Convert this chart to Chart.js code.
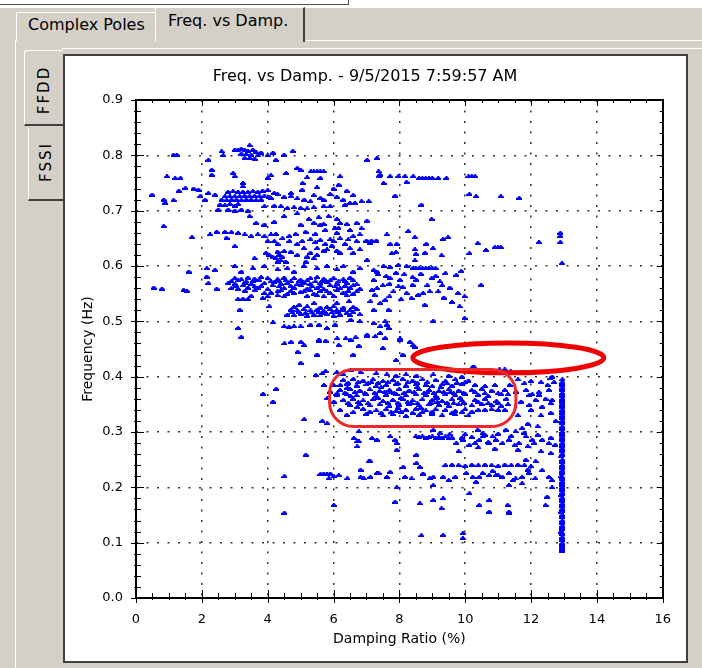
<!DOCTYPE html>
<html><head><meta charset="utf-8">
<script src="https://cdn.jsdelivr.net/npm/chart.js@4.4.1/dist/chart.umd.min.js"></script>
<style>
html,body{margin:0;padding:0;}
body{width:702px;height:668px;overflow:hidden;background:#d4d0c8;position:relative;font-family:"DejaVu Sans",sans-serif;color:#000;}
.abs{position:absolute;box-sizing:border-box;}
.tabtxt{position:absolute;font-size:16px;line-height:16px;white-space:nowrap;}
.vtxt{position:absolute;font-size:15px;letter-spacing:2px;white-space:nowrap;transform:translate(-50%,-50%) rotate(-90deg);}
</style></head>
<body>
<div class="abs" style="left:0;top:0;width:702px;height:8px;background:#fff;"></div>
<div class="abs" style="left:0;top:4px;width:349px;height:1px;background:#555;"></div>
<div class="abs" style="left:348px;top:0;width:1px;height:5px;background:#555;"></div>

<div class="abs" style="left:15px;top:40px;width:687px;height:1px;background:#fff;"></div>
<div class="abs" style="left:15px;top:40px;width:1px;height:628px;background:#fff;"></div>

<div class="abs" style="left:16px;top:12px;width:140px;height:29px;border-top:1px solid #fff;border-left:1px solid #fff;border-right:1px solid #808080;background:#d4d0c8;"></div>
<div class="tabtxt" style="left:28px;top:17px;">Complex Poles</div>
<div class="abs" style="left:155px;top:7px;width:150px;height:35px;border-top:1px solid #fff;border-left:1px solid #fff;border-right:2px solid #404040;background:#d4d0c8;"></div>
<div class="tabtxt" style="left:168px;top:13px;">Freq. vs Damp.</div>

<div class="abs" style="left:62px;top:48px;width:640px;height:1px;background:#fff;"></div>
<div class="abs" style="left:24px;top:50px;width:39px;height:76px;border-top:1px solid #fff;border-left:1px solid #fff;border-bottom:2px solid #404040;border-radius:3px 0 0 0;background:#d4d0c8;"></div>
<div class="vtxt" style="left:44px;top:90px;">FFDD</div>
<div class="abs" style="left:28px;top:128px;width:35px;height:73px;border-left:1px solid #fff;border-bottom:2px solid #404040;background:#d4d0c8;"></div>
<div class="vtxt" style="left:46px;top:162px;">FSSI</div>

<div class="abs" style="left:63px;top:54px;width:625px;height:609px;border:2px solid #404040;background:#fff;"></div>
<canvas id="c" width="620" height="604" style="position:absolute;left:65px;top:56px;"></canvas>

<script>
// ---------- chart text ----------
const chartTitle = 'Freq. vs Damp. - 9/5/2015 7:59:57 AM';
const xAxisTitle = 'Damping Ratio (%)';
const yAxisTitle = 'Frequency (Hz)';
const xTickLabels = ['0','2','4','6','8','10','12','14','16'];
const yTickLabels = ['0.0','0.1','0.2','0.3','0.4','0.5','0.6','0.7','0.8','0.9'];

// ---------- poles: [damping ratio %, frequency Hz] ----------
const topPoles = [
[3.45,0.818],[3.0,0.81],[3.1,0.81],[3.2,0.812],[3.3,0.81],[3.4,0.808],[3.55,0.81],[3.65,0.806],[3.2,0.803],[3.35,0.802],[3.5,0.801],[3.7,0.8],[3.3,0.795],[3.45,0.795],[3.6,0.794],[2.6,0.807],[2.65,0.8],[2.2,0.792],[1.14,0.801],[1.24,0.801],[3.8,0.805],[4.16,0.805],[4.25,0.792],[4.5,0.801],[4.76,0.808],[4.0,0.8],
[0.94,0.762],[1.19,0.759],[1.35,0.759],[2.3,0.774],[2.3,0.765],[2.95,0.768],[3.0,0.762],[3.25,0.75],[3.25,0.744],[4.0,0.759],[4.1,0.764],[4.9,0.777],[5.0,0.774],[5.31,0.771],[5.4,0.771],[5.5,0.771],[5.6,0.771],[5.7,0.771],[5.2,0.76],[5.6,0.759],[5.06,0.75],[6.2,0.762],[6.16,0.747],[4.56,0.768],
[7.32,0.795],[7.02,0.792],[7.37,0.771],[7.37,0.762],[7.42,0.765],[7.72,0.762],[7.97,0.762],[8.17,0.762],[8.42,0.762],[8.6,0.759],[8.7,0.759],[8.8,0.759],[8.9,0.759],[9.0,0.759],[9.18,0.759],[9.43,0.759],[7.52,0.75],[8.22,0.752],[10.1,0.762],[10.2,0.762],[10.3,0.762]
];
const upperPoles = [
[0.49,0.729],[1.3,0.736],[1.5,0.741],[1.75,0.74],[1.9,0.738],
[2.8,0.734],[2.95,0.735],[3.1,0.734],[3.25,0.734],[3.4,0.734],[3.55,0.735],[3.7,0.734],[3.85,0.736],[4.0,0.737],
[2.7,0.726],[2.85,0.726],[3.0,0.726],[3.15,0.726],[3.3,0.727],[3.45,0.726],[3.6,0.727],[3.75,0.726],[3.9,0.727],[4.05,0.725],
[2.6,0.72],[2.75,0.719],[2.9,0.72],[3.05,0.72],[3.2,0.719],[3.35,0.72],[3.5,0.72],[3.65,0.719],[3.8,0.72],
[1.95,0.726],[2.2,0.732],[2.4,0.729],[2.1,0.72],[0.84,0.72],[0.89,0.714],[1.14,0.719],
[2.55,0.711],[2.7,0.71],[2.85,0.712],[3.0,0.709],[3.1,0.712],
[4.2,0.732],[4.1,0.723],[4.71,0.732],[4.71,0.726],[5.11,0.72],[5.3,0.717],[5.6,0.723],[5.7,0.72],
[6.3,0.72],[6.5,0.714],[6.35,0.711],[6.65,0.714],[6.85,0.717],
[3.9,0.708],[4.2,0.709],[4.4,0.708],[4.6,0.705],[4.8,0.706],[5.0,0.705],[5.2,0.704],[5.4,0.706],[5.7,0.708],[5.9,0.708],
[2.5,0.702],[2.8,0.702],[3.0,0.7],[3.2,0.702],[3.4,0.7],[3.45,0.69],[3.65,0.678],
[7.87,0.727],[7.07,0.717],[10.13,0.73],[10.33,0.726],[11.08,0.726],[11.64,0.723],[8.67,0.711],[8.98,0.685],[7.02,0.682],
[4.3,0.73],[4.5,0.725],[4.9,0.722],[5.4,0.728],[5.9,0.73],[6.1,0.725],[6.6,0.728],[5.05,0.738],[5.5,0.742],[6.0,0.74],[6.4,0.736]
];
const middlePoles = [
[0.84,0.672],[5.0,0.675],[5.4,0.678],[5.6,0.675],[5.7,0.676],[6.2,0.678],[6.15,0.669],[6.4,0.676],[6.7,0.678],
[2.25,0.657],[2.45,0.662],[2.7,0.662],[2.9,0.661],[3.1,0.66],[3.3,0.657],[3.5,0.654],[3.7,0.657],[3.9,0.654],[4.1,0.657],[4.25,0.658],
[1.7,0.652],[2.75,0.651],[3.0,0.636],[4.0,0.645],[4.2,0.645],[4.3,0.64],
[4.66,0.654],[4.66,0.645],[5.3,0.648],[5.6,0.647],[5.9,0.648],[6.2,0.65],[6.6,0.654],[6.8,0.657],[6.1,0.66],[6.7,0.645],
[3.95,0.624],[4.3,0.626],[4.5,0.627],[4.7,0.626],[4.25,0.614],[4.4,0.61],[4.3,0.608],[4.55,0.608],
[5.1,0.632],[5.3,0.624],[5.5,0.632],[5.7,0.628],[5.8,0.63],[6.1,0.628],[6.2,0.624],[6.6,0.624],[6.8,0.63],
[5.16,0.608],[3.6,0.614],[5.4,0.614],
[7.0,0.646],[7.15,0.646],[7.3,0.646],[7.1,0.642],[7.62,0.657],[8.27,0.663],[8.47,0.652],[7.72,0.64],[7.92,0.64],[7.77,0.623],[7.9,0.625],[8.47,0.63],[8.5,0.622],[8.82,0.64],[9.02,0.632],[8.78,0.624],[9.33,0.649],[9.48,0.652],[9.28,0.619],[8.47,0.61],[7.02,0.611],
[10.38,0.641],[10.13,0.623],[10.63,0.629],[10.9,0.634],[11.0,0.634],[11.08,0.634],[12.24,0.643],[12.89,0.66],[12.89,0.654],[12.89,0.643],[12.94,0.605],
[7.52,0.6],[7.72,0.598],[7.97,0.602],[8.22,0.6],[8.42,0.597],[8.5,0.596],[8.6,0.596],[8.7,0.596],[8.8,0.596],[8.9,0.596],[9.0,0.596],[9.1,0.596],[7.32,0.59],[7.22,0.593],[9.88,0.591],
[1.6,0.59],[2.15,0.596],[2.4,0.593],[3.0,0.6],[3.2,0.59],[3.55,0.596],[3.9,0.6],[4.3,0.594],[4.6,0.596],[4.8,0.59],[5.1,0.6],[5.5,0.596],[5.8,0.6],[6.1,0.594],[6.3,0.6],[6.6,0.59],[6.8,0.596],
[4.05,0.62],[4.15,0.617],[4.35,0.62],[4.45,0.616],[4.9,0.62],[5.2,0.617],[5.5,0.62],[5.95,0.637],[6.35,0.64],[6.5,0.632],[4.9,0.64],[5.05,0.645],[5.45,0.643],[5.75,0.64],[6.0,0.645],[6.45,0.648],[4.45,0.65],[4.85,0.658],[5.15,0.662],[5.45,0.658],[5.75,0.665],[6.05,0.668],[6.5,0.665],[6.85,0.668],[5.25,0.685],[5.55,0.688],[5.85,0.69],[6.1,0.685],[4.5,0.69],[4.9,0.695],[4.2,0.68],[3.9,0.675]
];
const lowerMiddlePoles = [
[0.54,0.561],[0.79,0.559],[1.45,0.557],[1.55,0.555],[2.15,0.581],[2.2,0.569],[2.45,0.559],
[3.0,0.578],[3.2,0.576],[3.4,0.579],[3.6,0.577],[3.8,0.58],[4.0,0.578],[4.3,0.576],[4.5,0.579],[4.8,0.578],[5.0,0.575],[5.3,0.578],[5.5,0.58],[5.7,0.577],[6.0,0.578],[6.3,0.576],[6.5,0.579],
[2.8,0.569],[3.0,0.568],[3.3,0.57],[3.5,0.568],[3.9,0.569],[4.2,0.571],[4.4,0.568],[4.6,0.569],[4.9,0.567],[5.1,0.57],[5.3,0.568],[5.6,0.569],[5.8,0.571],[6.1,0.568],[6.4,0.569],[6.7,0.567],
[2.9,0.56],[3.1,0.559],[3.4,0.561],[3.7,0.56],[4.0,0.558],[4.5,0.56],[4.8,0.561],[5.2,0.559],[5.5,0.56],[5.7,0.558],[6.2,0.56],[6.5,0.561],[6.8,0.559],
[3.9,0.551],[4.1,0.552],[4.6,0.55],[4.8,0.551],[5.0,0.553],[5.4,0.55],[5.9,0.551],[6.3,0.552],[6.6,0.55],
[3.1,0.54],[3.25,0.541],[3.4,0.54],[3.85,0.542],[4.0,0.545],[4.05,0.527],
[4.96,0.53],[5.41,0.533],[6.1,0.533],[6.47,0.536],
[4.7,0.521],[4.9,0.52],[5.1,0.522],[5.3,0.52],[5.5,0.521],[5.7,0.519],[5.9,0.522],[6.1,0.52],[6.3,0.521],[6.5,0.52],[6.7,0.522],
[4.6,0.512],[4.8,0.511],[5.0,0.513],[5.2,0.51],[5.4,0.512],[5.6,0.511],[5.8,0.513],[6.0,0.51],[6.2,0.512],[6.5,0.511],[6.8,0.513],
[3.15,0.521],[3.1,0.488],[3.2,0.472],[4.16,0.498],[4.5,0.491],[4.65,0.49],[4.8,0.491],[5.0,0.491],[5.3,0.494],[5.56,0.494],[5.8,0.488],[6.05,0.494],[6.52,0.503],[6.8,0.5],
[4.51,0.46],[4.71,0.463],[5.01,0.463],[5.11,0.457],[5.56,0.465],[5.76,0.465],[6.11,0.469],[6.16,0.457],[6.37,0.469],[6.67,0.471],[6.77,0.456],[4.91,0.445],
[7.22,0.575],[7.72,0.578],[8.02,0.575],[8.52,0.575],[8.98,0.578],[9.23,0.572],[9.73,0.584],
[7.17,0.557],[7.32,0.56],[7.82,0.554],[7.97,0.563],[8.22,0.551],[8.37,0.542],[8.57,0.548],[8.72,0.551],[8.92,0.554],[9.18,0.554],[9.53,0.561],[9.78,0.551],[9.98,0.545],[10.48,0.566],
[7.12,0.536],[7.42,0.533],[7.57,0.539],[7.22,0.521],[7.67,0.521],[8.77,0.53],[9.83,0.527],
[7.57,0.5],[7.62,0.494],[7.67,0.488],[7.22,0.497],[7.42,0.491],[7.02,0.476],[9.03,0.501],[9.98,0.506],[8.02,0.469],[8.32,0.463],[8.47,0.454],
[5.56,0.467],[6.52,0.467],[7.02,0.473],[7.27,0.473],[7.42,0.479],[7.57,0.47],[8.02,0.467],[8.42,0.457],
[2.9,0.573],[3.1,0.574],[3.35,0.572],[3.55,0.573],[3.75,0.574],[4.1,0.572],[4.35,0.573],[4.55,0.574],[4.7,0.572],[4.95,0.573],[5.2,0.574],[5.45,0.572],[5.65,0.573],[5.9,0.574],[6.15,0.572],[6.35,0.573],[6.6,0.574],
[3.05,0.564],[3.25,0.565],[3.6,0.563],[3.8,0.564],[4.15,0.565],[4.35,0.563],[4.7,0.564],[5.0,0.565],[5.35,0.563],[5.6,0.564],[5.9,0.565],[6.05,0.563],[6.35,0.564],[6.6,0.565],
[3.3,0.555],[3.6,0.556],[4.3,0.554],[4.4,0.556],[4.7,0.555],[5.1,0.554],[5.3,0.556],[5.6,0.555],[5.8,0.554],[6.1,0.556],[6.45,0.555],[6.7,0.554],
[3.5,0.546],[4.3,0.547],[4.5,0.545],[5.2,0.546],[5.5,0.547],[5.7,0.545],[6.0,0.546],[6.4,0.547],
[4.75,0.516],[4.95,0.517],[5.15,0.515],[5.35,0.516],[5.55,0.517],[5.75,0.515],[5.95,0.516],[6.15,0.517],[6.4,0.515],[6.6,0.516],
[4.8,0.526],[5.2,0.527],[5.6,0.525],[5.8,0.526],[6.0,0.527],[6.3,0.525],[6.6,0.526],
[7.35,0.585],[7.6,0.582],[7.9,0.588],[8.15,0.585],[8.4,0.58],[8.65,0.586],[9.1,0.582],[9.4,0.587],[7.5,0.565],[7.7,0.568],[8.1,0.562],[8.4,0.566],[8.85,0.565],[9.3,0.565],[7.25,0.548],[7.7,0.545],[8.05,0.54],[9.35,0.543],[9.6,0.535],
[5.5,0.44],[6.6,0.44],[7.5,0.452],[8.1,0.44],[5.0,0.425],[7.9,0.43]
];
const clusterPoles = [
[10.28,0.417],[11.04,0.413],[11.38,0.41],[11.2,0.413],[10.23,0.418],[12.64,0.4],[12.59,0.397],
[5.46,0.403],[5.76,0.41],[6.1,0.408],[6.52,0.412],[6.82,0.408],
[3.86,0.369],[4.26,0.378],[4.16,0.355],
[5.66,0.406],[6.3,0.404],[7.3,0.406],[7.62,0.404],[7.9,0.402],[8.2,0.404],[8.52,0.402],[9.03,0.404],[9.5,0.402],[9.9,0.4],
[6.3,0.394],[6.6,0.396],[6.9,0.393],[7.2,0.395],[7.5,0.392],[7.8,0.394],[8.1,0.396],[8.4,0.393],[8.7,0.395],[9.1,0.394],[9.4,0.392],[9.7,0.395],[10.1,0.393],
[6.0,0.385],[6.4,0.387],[6.7,0.384],[7.0,0.386],[7.3,0.383],[7.6,0.385],[7.9,0.387],[8.2,0.384],[8.5,0.386],[8.8,0.385],[9.0,0.383],[9.3,0.386],[9.6,0.384],[9.9,0.387],[10.3,0.385],[10.6,0.383],
[6.2,0.376],[6.5,0.378],[6.8,0.375],[7.1,0.377],[7.4,0.374],[7.7,0.376],[8.0,0.378],[8.3,0.375],[8.6,0.377],[8.9,0.376],[9.2,0.374],[9.5,0.377],[9.8,0.375],[10.2,0.376],[10.5,0.378],[10.8,0.375],[11.2,0.376],
[6.1,0.367],[6.4,0.369],[6.7,0.366],[7.0,0.368],[7.3,0.365],[7.6,0.367],[7.9,0.369],[8.2,0.366],[8.5,0.368],[8.8,0.367],[9.1,0.365],[9.4,0.368],[9.7,0.366],[10.0,0.369],[10.4,0.367],[10.7,0.365],[11.1,0.368],
[6.3,0.358],[6.6,0.36],[6.9,0.357],[7.2,0.359],[7.5,0.356],[7.8,0.358],[8.1,0.36],[8.4,0.357],[8.7,0.359],[9.0,0.358],[9.3,0.356],[9.6,0.359],[9.9,0.357],[10.3,0.358],[10.6,0.36],
[6.5,0.349],[6.8,0.351],[7.1,0.348],[7.4,0.35],[7.7,0.347],[8.0,0.349],[8.3,0.351],[8.6,0.348],[8.9,0.35],[9.2,0.349],[9.5,0.347],[9.8,0.35],[10.2,0.348],[10.5,0.351],[10.8,0.349],[11.1,0.347],[11.3,0.35],
[6.2,0.34],[6.9,0.342],[7.3,0.339],[7.6,0.341],[7.9,0.338],[8.2,0.34],[8.5,0.342],[8.8,0.339],[9.1,0.341],[9.4,0.34],[9.7,0.338],[10.0,0.341],[10.4,0.34],[10.6,0.34],[10.8,0.341],[11.0,0.34],[11.2,0.34],
[6.4,0.331],[7.0,0.333],[7.5,0.33],[7.8,0.332],[8.2,0.329],[8.6,0.331],[9.0,0.333],[9.3,0.33],[9.7,0.332],[10.1,0.33],
[7.15,0.39],[7.45,0.381],[7.75,0.372],[8.05,0.362],[8.35,0.353],[8.65,0.344],[8.25,0.39],[8.55,0.381],[8.85,0.372],[9.15,0.362],[9.45,0.353],[7.35,0.362],[7.65,0.353],[7.95,0.344],[9.25,0.381],[9.55,0.372],[9.85,0.362],
[6.45,0.389],[6.75,0.39],[7.05,0.388],[7.35,0.389],[7.65,0.39],[7.95,0.388],[8.55,0.389],[8.85,0.39],[9.45,0.388],[9.75,0.389],[10.0,0.39],
[6.35,0.371],[6.65,0.372],[6.95,0.37],[7.25,0.371],[7.55,0.372],[7.85,0.37],[8.15,0.371],[8.45,0.372],[8.75,0.37],[9.05,0.371],[9.35,0.372],[9.65,0.37],[9.95,0.371],[10.3,0.372],[10.6,0.37],
[6.45,0.353],[6.75,0.354],[7.05,0.352],[7.95,0.353],[8.25,0.354],[8.55,0.352],[8.95,0.353],[9.15,0.354],[9.65,0.352],[9.95,0.353],[10.4,0.354],[10.7,0.352],[11.0,0.353],
[6.6,0.336],[7.1,0.337],[7.45,0.335],[7.75,0.336],[8.05,0.337],[8.4,0.335],[8.7,0.336],[9.0,0.337],[9.6,0.335],[9.9,0.336],[10.2,0.337],
[10.9,0.385],[11.0,0.37],[11.25,0.36],[11.35,0.385],[10.95,0.356],[11.3,0.368],
[5.71,0.385],[5.9,0.373],[5.81,0.361],[6.21,0.385],[6.11,0.37],[6.01,0.355],[6.42,0.38],[6.52,0.365],[6.72,0.345],
[5.11,0.323],[5.66,0.32],[5.81,0.316],
[11.54,0.373],[11.85,0.376],[11.95,0.367],[12.14,0.358],[11.95,0.349],[12.34,0.346],[12.54,0.376],[12.64,0.358],[12.24,0.367],[12.04,0.368],[12.24,0.372],[12.44,0.36],[12.6,0.352],
[11.6,0.395],[11.8,0.388],[12.0,0.392],[12.3,0.39],[12.5,0.385],[12.7,0.39],[11.7,0.355],[12.0,0.34],[12.3,0.33],[12.6,0.335],[12.75,0.32],[11.6,0.33],[11.9,0.315],[12.2,0.31]
];
const lowPoles = [
[8.5,0.292],[8.6,0.291],[8.7,0.292],[8.8,0.29],[8.9,0.291],[9.0,0.292],[9.1,0.29],[9.2,0.291],[9.3,0.29],[9.4,0.292],[9.5,0.289],[9.6,0.29],
[9.73,0.28],[9.93,0.286],[10.13,0.277],[10.43,0.286],[10.53,0.292],[10.73,0.28],[10.93,0.286],[11.13,0.28],[11.33,0.286],[11.63,0.28],[11.84,0.292],[12.04,0.286],[12.34,0.286],[12.54,0.28],[12.74,0.277],
[6.62,0.289],[6.77,0.283],[7.17,0.289],[7.32,0.286],[7.72,0.292],[7.87,0.286],[7.92,0.28],
[9.23,0.298],[9.53,0.296],[9.03,0.304],
[10.38,0.304],[10.53,0.298],[10.83,0.292],[11.23,0.304],[11.53,0.301],[11.73,0.307],
[9.9,0.29],[10.3,0.28],[10.7,0.282],[11.5,0.276],[11.9,0.274],[12.1,0.28],
[10.0,0.296],[10.2,0.291],[10.6,0.295],[11.0,0.297],[11.4,0.293],[11.8,0.299],[12.2,0.295],[12.6,0.29],[10.4,0.272],[10.9,0.27],[11.6,0.268],[12.3,0.265],[12.6,0.262],[9.8,0.265],
[5.16,0.259],[8.52,0.259],[6.72,0.274],[7.92,0.268],[6.77,0.301],[6.72,0.283],
[9.4,0.24],[9.6,0.241],[9.8,0.24],[10.0,0.239],[10.2,0.241],[10.4,0.24],[10.6,0.241],[10.8,0.24],[11.0,0.239],[11.2,0.241],[11.4,0.24],[11.6,0.241],[11.8,0.24],[12.0,0.238],
[5.6,0.224],[5.7,0.225],[5.8,0.224],[5.9,0.225],[6.16,0.222],[6.42,0.216],[6.82,0.219],[6.92,0.216],[7.12,0.219],[7.37,0.226],[7.62,0.219],[7.72,0.228],[8.12,0.237],[8.17,0.219],[8.37,0.216],[8.62,0.237],[8.72,0.225],
[7.07,0.247],[9.03,0.219],[9.33,0.219],
[10.03,0.226],[10.23,0.219],[10.33,0.21],[10.43,0.219],[10.53,0.226],[10.73,0.222],[10.93,0.222],[11.13,0.219],[11.33,0.226],[11.53,0.216],[11.73,0.219],[11.93,0.226],[12.13,0.216],[12.34,0.231],[12.54,0.219],[12.64,0.213],
[11.84,0.25],[12.14,0.247],
[4.51,0.22],[5.86,0.216],[6.01,0.22],[6.82,0.232],
[7.92,0.2],[9.03,0.204],[10.13,0.189],[11.33,0.204],[11.73,0.207],[12.64,0.2],
[7.12,0.247],[7.32,0.226],[8.52,0.244],[8.92,0.216],[9.5,0.213],[9.7,0.219],[10.83,0.23],[11.0,0.222],[11.45,0.213],[11.9,0.232],
[6.01,0.168],[7.87,0.174],[8.62,0.171],[9.03,0.177],[9.28,0.162],[9.33,0.18],[10.43,0.168],[10.73,0.156],[10.73,0.177],[11.29,0.168],[11.33,0.156],[12.44,0.168],[12.49,0.183],[11.33,0.153],
[4.51,0.154],
[8.67,0.113],[9.33,0.114],[9.93,0.117],[9.93,0.108]
];
const columnPoles = [
[12.95,0.085],[12.95,0.09],[12.95,0.094],[12.95,0.099],[12.95,0.104],[12.95,0.11],[12.95,0.115],[12.92,0.12],[12.95,0.124],[12.95,0.13],[12.95,0.135],[12.95,0.14],[12.95,0.146],[12.95,0.15],[12.92,0.156],[12.95,0.161],[12.95,0.166],[12.95,0.17],[12.95,0.176],[12.95,0.181],[12.92,0.186],[12.95,0.19],[12.95,0.196],[12.95,0.2],[12.95,0.205],[12.95,0.21],[12.95,0.215],[12.92,0.22],[12.95,0.226],[12.95,0.23],[12.95,0.235],[12.95,0.24],[12.95,0.245],[12.95,0.25],[12.92,0.256],[12.95,0.26],[12.95,0.265],[12.95,0.27],[12.95,0.275],[12.95,0.28],[12.95,0.286],[12.95,0.29],[12.95,0.295],[12.95,0.3],[12.95,0.305],[12.95,0.31],[12.95,0.316],[12.95,0.32],[12.95,0.325],[12.95,0.33],[12.95,0.335],[12.95,0.34],[12.95,0.346],[12.95,0.35],[12.95,0.355],[12.95,0.36],[12.95,0.365],[12.95,0.37],[12.95,0.376],[12.95,0.38],[12.95,0.385],[12.95,0.39],[12.95,0.395],
[12.95,0.087],[12.95,0.097],[12.95,0.107],[12.95,0.117],[12.95,0.127],[12.95,0.138],[12.95,0.148],[12.95,0.158],[12.95,0.168],[12.95,0.178],[12.95,0.188],[12.95,0.198],[12.95,0.208],[12.95,0.218],[12.95,0.228],[12.95,0.238],[12.95,0.248],[12.95,0.258],[12.95,0.268],[12.95,0.278],[12.95,0.288],[12.95,0.298],[12.95,0.308],[12.95,0.318],[12.95,0.328],[12.95,0.338],[12.95,0.348],[12.95,0.358],[12.95,0.368],[12.95,0.378],[12.95,0.388]
];

// ---------- hand-drawn highlights (data coordinates) ----------
const markEllipse = {cx: 11.31, cy: 0.434, rx: 2.9, ry: 0.027};
const markBox = {x0: 5.88, x1: 11.54, y0: 0.310, y1: 0.413};

const poleGroups = [topPoles, upperPoles, middlePoles, lowerMiddlePoles, clusterPoles, lowPoles, columnPoles];

// small wedge-shaped marker like the original plot's
const marker = document.createElement('canvas');
marker.width = 6; marker.height = 4;
(function () {
  const m = marker.getContext('2d');
  m.fillStyle = '#0000ff';
  m.fillRect(2, 0, 2, 1);
  m.fillRect(1, 1, 4, 1);
  m.fillRect(0, 2, 6, 2);
})();

const framePlugin = {
  id: 'frame',
  afterDatasetsDraw(chart) {
    const {ctx, chartArea: a, scales: {x, y}} = chart;
    ctx.save();
    ctx.strokeStyle = '#000';
    ctx.lineWidth = 1;
    const L = a.left, R = a.right, T = a.top, B = a.bottom;
    for (let i = 0; i <= 32; i++) {
      const v = i * 0.5, major = i % 4 === 0;
      const px = Math.round(x.getPixelForValue(v)) + 0.5;
      ctx.beginPath();
      ctx.moveTo(px, B + (major ? 5 : 2)); ctx.lineTo(px, B - (major ? 8 : 5));
      ctx.moveTo(px, T); ctx.lineTo(px, T + (major ? 6 : 3));
      ctx.stroke();
    }
    for (let i = 0; i <= 45; i++) {
      const v = i * 0.02, major = i % 5 === 0;
      const py = Math.round(y.getPixelForValue(v)) + 0.5;
      ctx.beginPath();
      ctx.moveTo(L - (major ? 5 : 2), py); ctx.lineTo(L + (major ? 8 : 5), py);
      ctx.moveTo(R, py); ctx.lineTo(R - (major ? 6 : 3), py);
      ctx.stroke();
    }
    ctx.lineWidth = 2;
    ctx.strokeRect(Math.round(L), Math.round(T), Math.round(R - L), Math.round(B - T));
    ctx.strokeStyle = 'rgb(240,0,0)';
    ctx.lineWidth = 5;
    const ecx = x.getPixelForValue(markEllipse.cx), ecy = y.getPixelForValue(markEllipse.cy);
    const erx = x.getPixelForValue(markEllipse.cx + markEllipse.rx) - ecx;
    const ery = ecy - y.getPixelForValue(markEllipse.cy + markEllipse.ry);
    ctx.beginPath(); ctx.ellipse(ecx, ecy, erx, ery, 0, 0, Math.PI * 2); ctx.stroke();
    const bx0 = x.getPixelForValue(markBox.x0), bx1 = x.getPixelForValue(markBox.x1);
    const by0 = y.getPixelForValue(markBox.y1), by1 = y.getPixelForValue(markBox.y0);
    const r = 24;
    ctx.strokeStyle = 'rgb(236,40,40)';
    ctx.lineWidth = 3;
    ctx.beginPath();
    ctx.moveTo(bx0 + r, by0);
    ctx.lineTo(bx1 - r, by0); ctx.arcTo(bx1, by0, bx1, by0 + r, r);
    ctx.lineTo(bx1, by1 - r); ctx.arcTo(bx1, by1, bx1 - r, by1, r);
    ctx.lineTo(bx0 + r, by1); ctx.arcTo(bx0, by1, bx0, by1 - r, r);
    ctx.lineTo(bx0, by0 + r); ctx.arcTo(bx0, by0, bx0 + r, by0, r);
    ctx.closePath(); ctx.stroke();
    ctx.restore();
  }
};

const tickFont = {family: 'DejaVu Sans', size: 13};
const gridStyle = {color: '#333', lineWidth: 1.5, drawTicks: false};
const borderStyle = {display: false, dash: [2, 8.5]};

new Chart(document.getElementById('c'), {
  type: 'scatter',
  data: {
    datasets: poleGroups.map(g => ({
      data: g.map(p => ({x: p[0], y: p[1]})),
      pointStyle: marker, pointRadius: 3, pointHoverRadius: 3,
      backgroundColor: '#0000ff', borderColor: '#0000ff', borderWidth: 0, showLine: false
    }))
  },
  options: {
    responsive: false, animation: false, devicePixelRatio: 1,
    layout: {padding: {left: 0, right: 20, top: 0, bottom: 0}},
    plugins: {
      legend: {display: false}, tooltip: {enabled: false},
      title: {display: true, text: chartTitle, color: '#000',
        font: {family: 'DejaVu Sans', size: 16, weight: 'normal', lineHeight: 1},
        padding: {top: 13, bottom: 15}}
    },
    scales: {
      x: {
        type: 'linear', min: 0, max: 16,
        ticks: {stepSize: 2, color: '#000', font: tickFont, padding: 14, maxRotation: 0,
          callback: (v, i) => xTickLabels[i]},
        grid: gridStyle, border: borderStyle,
        title: {display: true, text: xAxisTitle, color: '#000',
          font: {family: 'DejaVu Sans', size: 14}, padding: {top: 0, bottom: 12}},
        afterFit: s => { s.height = 62; }
      },
      y: {
        type: 'linear', min: 0, max: 0.9,
        ticks: {stepSize: 0.1, color: '#000', font: tickFont, padding: 13,
          callback: (v, i) => yTickLabels[i]},
        grid: gridStyle, border: borderStyle,
        title: {display: true, text: yAxisTitle, color: '#000',
          font: {family: 'DejaVu Sans', size: 14}, padding: {top: 15, bottom: 0}},
        afterFit: s => { s.width = 71; }
      }
    }
  },
  plugins: [framePlugin]
});
</script>
</body></html>
